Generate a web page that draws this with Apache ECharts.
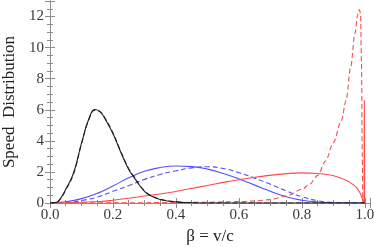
<!DOCTYPE html>
<html>
<head>
<meta charset="utf-8">
<script src="https://cdn.jsdelivr.net/npm/echarts@6/dist/echarts.min.js"></script>
<style>html,body{margin:0;padding:0;background:#fff}#c{width:374px;height:247px}</style>
</head>
<body>
<div id="c"></div>
<script>
// x positions (beta) and values for each curve
var blackX      = [0, 0.02, 0.035, 0.05, 0.075, 0.1, 0.125, 0.143, 0.16, 0.175, 0.2, 0.222, 0.25, 0.265, 0.3, 0.325, 0.35, 0.4, 0.45, 0.5, 0.6, 0.8, 1.0];
var blackSolid  = [0, 0.04, 0.35, 0.88, 1.95, 3.85, 5.5, 6.02, 5.85, 5.4, 4.45, 3.4, 2.15, 1.7, 0.75, 0.42, 0.23, 0.07, 0.02, 0, 0, 0, 0];
var blackDashed = [0, 0.04, 0.33, 0.84, 1.9, 3.8, 5.45, 5.98, 5.86, 5.45, 4.5, 3.45, 2.2, 1.75, 0.78, 0.44, 0.24, 0.08, 0.02, 0, 0, 0, 0];

var blueX       = [0, 0.05, 0.1, 0.15, 0.2, 0.25, 0.3, 0.35, 0.4, 0.45, 0.5, 0.55, 0.6, 0.65, 0.7, 0.75, 0.8, 0.85, 0.9, 0.95, 1.0];
var blueSolid   = [0, 0.08, 0.28, 0.62, 1.1, 1.62, 2.04, 2.28, 2.38, 2.34, 2.18, 1.9, 1.55, 1.15, 0.75, 0.4, 0.18, 0.06, 0.02, 0, 0];
var blueDashed  = [0, 0.03, 0.16, 0.38, 0.75, 1.12, 1.52, 1.84, 2.07, 2.26, 2.33, 2.22, 1.95, 1.6, 1.2, 0.78, 0.4, 0.15, 0.04, 0.01, 0];

var redSolidX   = [0, 0.05, 0.1, 0.16, 0.2, 0.265, 0.3, 0.37, 0.435, 0.5, 0.56, 0.6, 0.625, 0.69, 0.75, 0.8, 0.85, 0.89, 0.92, 0.942, 0.96, 0.974, 0.985, 0.99, 0.995, 0.997, 0.998, 0.9985, 0.999];
var redSolid    = [0, 0.02, 0.05, 0.1, 0.18, 0.35, 0.45, 0.64, 0.88, 1.13, 1.36, 1.5, 1.58, 1.76, 1.89, 1.94, 1.9, 1.8, 1.62, 1.45, 1.22, 0.97, 0.62, 0.35, 0.08, 0, 6.6, 3, 0];

var redDashedX  = [0, 0.2, 0.4, 0.5, 0.6, 0.65, 0.7, 0.75, 0.8, 0.825, 0.85, 0.875, 0.9, 0.925, 0.94, 0.955, 0.968, 0.977, 0.982, 0.986, 0.989, 0.9915, 0.993];
var redDashed   = [0, 0.01, 0.03, 0.05, 0.09, 0.13, 0.22, 0.45, 0.87, 1.22, 1.78, 2.7, 3.9, 5.3, 6.6, 8.8, 10.9, 12.1, 12.45, 12.2, 9, 3, 0];

var xTicks = [0, 0.2, 0.4, 0.6, 0.8, 1.0];
var yTicks = [0, 2, 4, 6, 8, 10, 12];

function pairs(xs, ys) { return xs.map(function (x, i) { return [x, ys[i]]; }); }

var serif = '"Liberation Serif", "Times New Roman", serif';
var frameColor = '#8c8c8c';
var labelColor = '#3a3a3a';

function line(name, xs, ys, color, dashed, mono) {
  var s = {
    name: name, type: 'line', data: pairs(xs, ys), showSymbol: false,
    smooth: mono ? 0.3 : 0.5, clip: true,
    lineStyle: { color: color, width: 1.1, type: dashed ? [5, 3] : 'solid' },
    emphasis: { disabled: true }
  };
  if (mono) s.smoothMonotone = 'x';
  return s;
}

var chart = echarts.init(document.getElementById('c'), null, { renderer: 'canvas' });
var xMax = 1.016, yMax = 13;
chart.setOption({
  animation: false,
  backgroundColor: '#fff',
  grid: { left: 50, right: 4, top: 1, bottom: 44, outerBoundsMode: 'none', containLabel: false },
  xAxis: [{
    type: 'value', min: 0, max: xMax, interval: 0.2,
    name: 'β = v/c', nameLocation: 'middle', nameGap: 20,
    nameTextStyle: { fontFamily: serif, fontSize: 17, color: '#222' },
    axisLine: { show: true, lineStyle: { color: frameColor, width: 1 } },
    axisTick: { show: true, inside: true, length: 5, lineStyle: { color: frameColor } },
    minorTick: { show: true, splitNumber: 4, length: 3, lineStyle: { color: frameColor } },
    splitLine: { show: false },
    axisLabel: {
      fontFamily: serif, fontSize: 15, color: labelColor, margin: 5, showMaxLabel: false,
      formatter: function (v) { return xTicks.some(function (t) { return Math.abs(t - v) < 1e-9; }) ? v.toFixed(1) : ''; }
    }
  }, {
    type: 'value', min: 0, max: xMax, interval: 0.2, position: 'top',
    axisLine: { show: true, lineStyle: { color: frameColor, width: 1 } },
    axisTick: { show: true, inside: true, length: 5, lineStyle: { color: frameColor } },
    minorTick: { show: true, splitNumber: 4, length: 3, lineStyle: { color: frameColor } },
    splitLine: { show: false }, axisLabel: { show: false }
  }],
  yAxis: [{
    type: 'value', min: 0, max: yMax, interval: 2,
    name: 'Speed  Distribution', nameLocation: 'middle', nameGap: 25,
    nameTextStyle: { fontFamily: serif, fontSize: 17, color: '#222' },
    axisLine: { show: true, lineStyle: { color: frameColor, width: 1 } },
    axisTick: { show: true, inside: true, length: 5, lineStyle: { color: frameColor } },
    minorTick: { show: true, splitNumber: 4, length: 3, lineStyle: { color: frameColor } },
    splitLine: { show: false },
    axisLabel: {
      fontFamily: serif, fontSize: 15, color: labelColor, margin: 6, showMaxLabel: false,
      formatter: function (v) { return yTicks.indexOf(v) >= 0 ? String(v) : ''; }
    }
  }, {
    type: 'value', min: 0, max: yMax, interval: 2, position: 'right',
    axisLine: { show: true, lineStyle: { color: frameColor, width: 1 } },
    axisTick: { show: true, inside: true, length: 5, lineStyle: { color: frameColor } },
    minorTick: { show: true, splitNumber: 4, length: 3, lineStyle: { color: frameColor } },
    splitLine: { show: false }, axisLabel: { show: false }
  }],
  series: [
    line('blueSolid', blueX, blueSolid, '#5050ff', false, false),
    line('blueDashed', blueX, blueDashed, '#5050ff', true, false),
    line('redSolid', redSolidX, redSolid, '#ff4a4a', false, false),
    line('redDashed', redDashedX, redDashed, '#ff4a4a', true, true),
    line('blackSolid', blackX, blackSolid, '#222222', false, false),
    line('blackDashed', blackX, blackDashed, '#222222', true, false)
  ]
});
</script>
</body>
</html>
